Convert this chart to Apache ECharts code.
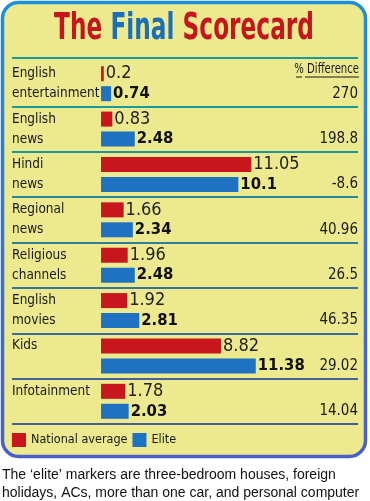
<!DOCTYPE html>
<html><head><meta charset="utf-8">
<script src="https://cdn.jsdelivr.net/npm/echarts@6/dist/echarts.min.js"></script>
<style>html,body{margin:0;padding:0;background:#fff}#c{width:370px;height:501px}</style>
</head><body><div id="c"></div>
<script>
var categories = ['English\nentertainment', 'English\nnews', 'Hindi\nnews', 'Regional\nnews', 'Religious\nchannels', 'English\nmovies', 'Kids', 'Infotainment'];
var nationalAverage = [0.2, 0.83, 11.05, 1.66, 1.96, 1.92, 8.82, 1.78];
var elite = [0.74, 2.48, 10.1, 2.34, 2.48, 2.81, 11.38, 2.03];
var pctDifference = ['270', '198.8', '-8.6', '40.96', '26.5', '46.35', '29.02', '14.04'];

var NARROW = '"DejaVu Sans Condensed", "Liberation Sans", sans-serif';
var chart = echarts.init(document.getElementById('c'), null, {renderer: 'canvas'});
chart.setOption({
  backgroundColor: '#ffffff',
  animation: false,
  graphic: [
    {type: 'rect', z: -10, shape: {x: 2.5, y: 2.5, width: 363, height: 454, r: 16},
     style: {fill: '#ece98f', stroke: new echarts.graphic.LinearGradient(0, 0, 0, 1, [{offset: 0, color: '#1b90d8'}, {offset: 1, color: '#4a5ec6'}]), lineWidth: 3.5}},
    {type: 'line', z: -5, shape: {x1: 12, y1: 58, x2: 358, y2: 58}, style: {stroke: '#1e9a96', lineWidth: 2}},
    {type: 'text', z: 5, x: 184, y: 29, scaleX: 0.68,
     style: {text: '{r|The}{b|Final}{r|Scorecard}', align: 'center', verticalAlign: 'middle',
       rich: {
         r: {fontFamily: NARROW, fontWeight: 'bold', fontSize: 38, fill: '#c4161c'},
         b: {fontFamily: NARROW, fontWeight: 'bold', fontSize: 38, fill: '#1a6fb8', padding: [0, 12, 0, 12]}
       }}},
    {type: 'text', z: 5, x: 359, y: 69, scaleX: 0.8, style: {text: '% Difference', align: 'right', verticalAlign: 'middle', font: '14px ' + NARROW, fill: '#1a1a1a'}},
    {type: 'line', z: 5, shape: {x1: 296, y1: 77, x2: 302, y2: 77}, style: {stroke: '#1a1a1a', lineWidth: 1}},
    {type: 'line', z: 5, shape: {x1: 305, y1: 77, x2: 359, y2: 77}, style: {stroke: '#1a1a1a', lineWidth: 1}},
    {type: 'text', z: 5, x: 2, y: 475, style: {text: "The \u2018elite\u2019 markers are three-bedroom houses, foreign", verticalAlign: 'middle', font: '14px "Liberation Sans", sans-serif', fill: '#111'}},
    {type: 'text', z: 5, x: 2, y: 493, style: {text: 'holidays, ACs, more than one car, and personal computer', verticalAlign: 'middle', font: '14px "Liberation Sans", sans-serif', fill: '#111'}}
  ],
  legend: {
    left: 7, top: 428, icon: 'rect', itemWidth: 14, itemHeight: 14, itemGap: 5,
    textStyle: {fontFamily: NARROW, fontSize: 12.5, color: '#1a1a1a'},
    data: ['National average', 'Elite']
  },
  grid: {left: 12, right: 12, top: 61, height: 363},
  xAxis: {type: 'value', min: -6.55, max: 18.9, show: false},
  yAxis: [
    {
      type: 'category', data: categories, inverse: true, position: 'left',
      axisLine: {show: false}, axisTick: {show: false},
      splitLine: {show: true, lineStyle: {width: 2, color: ['rgba(0,0,0,0)', '#1e9a96', '#209497', '#258a98', '#2c7f99', '#36749a', '#3e6a98', '#446396', '#475e94']}},
      axisLabel: {
        inside: true, align: 'left', margin: 0, fontFamily: NARROW, fontSize: 13.5, lineHeight: 20, color: '#1a1a1a',
        formatter: function (v) { return v.indexOf('\n') < 0 ? v + '\n ' : v; }
      }
    },
    {
      type: 'category', data: categories, inverse: true, position: 'right',
      axisLine: {show: false}, axisTick: {show: false}, splitLine: {show: false},
      axisLabel: {
        inside: true, align: 'right', margin: 0, fontFamily: NARROW, fontSize: 15, lineHeight: 20, color: '#1a1a1a',
        formatter: function (v, i) { return ' \n' + pctDifference[i]; }
      }
    }
  ],
  series: [
    {
      name: 'National average', type: 'bar', data: nationalAverage, barWidth: 15, barGap: '33%',
      itemStyle: {color: '#c8161d'},
      label: {show: true, position: 'right', distance: 2, fontFamily: NARROW, fontSize: 18, color: '#222'}
    },
    {
      name: 'Elite', type: 'bar', data: elite, barWidth: 15,
      itemStyle: {color: '#1f72c2'},
      label: {show: true, position: 'right', distance: 2, fontFamily: NARROW, fontSize: 16.5, fontWeight: 'bold', color: '#111'}
    }
  ]
});
</script></body></html>
